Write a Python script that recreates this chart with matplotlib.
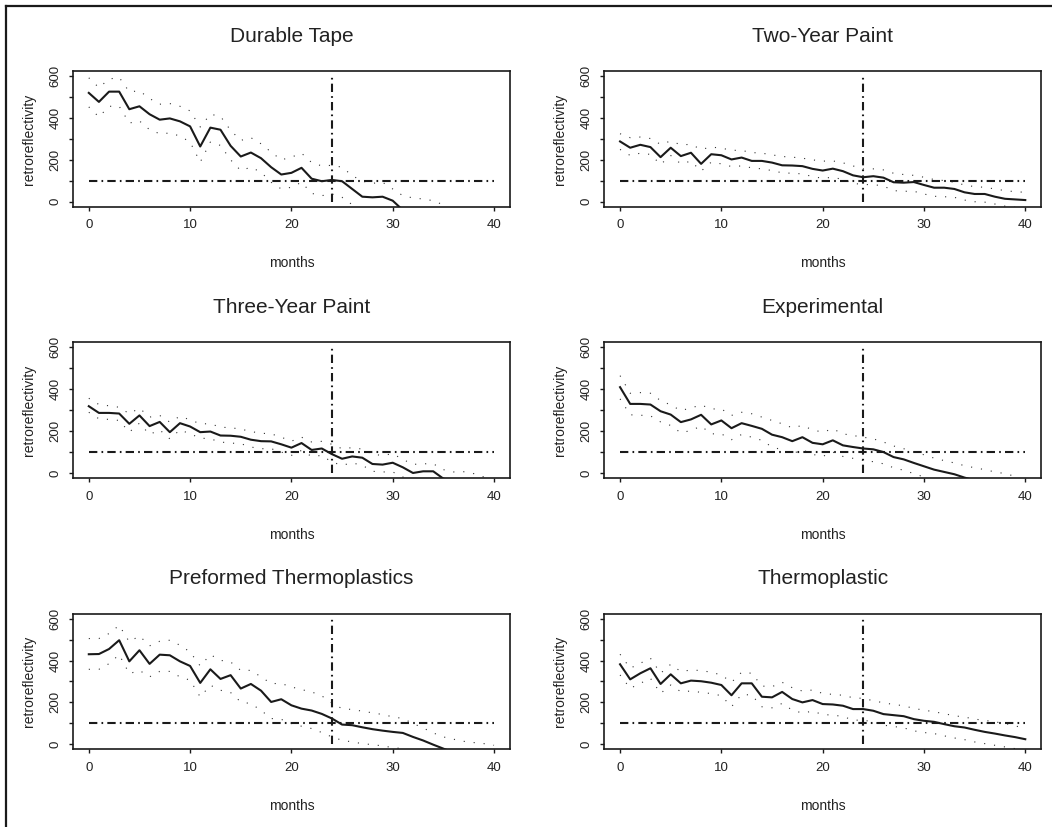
import matplotlib
matplotlib.use("Agg")
import matplotlib.pyplot as plt
from matplotlib.lines import Line2D

plt.rcParams["font.family"] = ["Liberation Sans", "DejaVu Sans"]

# -----------------------------
# Data
# -----------------------------
months = list(range(41))

titles = ["Durable Tape", "Two-Year Paint", "Three-Year Paint",
          "Experimental", "Preformed Thermoplastics", "Thermoplastic"]

tape_mean = [520, 477, 526, 526, 442, 456, 418, 392, 398, 384, 360, 264, 354, 344,
             267, 216, 235, 208, 165, 130, 138, 162, 110, 98, 104, 98, 61, 24, 21,
             24, 5, -40]
tape_upper = [592, 545, 586, 594, 525, 530, 493, 466, 469, 456, 434, 357, 418, 408,
              341, 293, 306, 277, 237, 200, 213, 232, 187, 171, 174, 165, 125, 98,
              88, 93, 61, 29, 18, 13, 5, -15]
tape_lower = [453, 405, 456, 456, 376, 386, 344, 325, 328, 314, 285, 189, 285, 269,
              200, 149, 165, 141, 93, 61, 69, 93, 40, 29, 37, 21, -14, -50]

two_mean = [288, 258, 272, 261, 213, 258, 218, 234, 181, 227, 222, 202, 211, 195,
            195, 187, 174, 173, 170, 157, 149, 158, 146, 126, 117, 122, 115, 93, 91,
            94, 80, 67, 67, 61, 45, 37, 37, 24, 14, 11, 8]
two_upper = [325, 306, 309, 302, 274, 290, 272, 274, 250, 261, 256, 246, 245, 235,
             232, 224, 216, 213, 208, 200, 194, 195, 186, 171, 157, 157, 152, 136,
             130, 126, 117, 106, 101, 93, 80, 72, 69, 61, 53, 48, 45]
two_lower = [250, 221, 232, 226, 178, 221, 181, 194, 146, 189, 181, 168, 171, 162,
             157, 149, 138, 136, 133, 120, 112, 117, 106, 88, 82, 82, 75, 53, 50, 50,
             37, 26, 24, 21, 8, 0, -2, -11, -21, -27, -35]

three_mean = [319, 287, 287, 284, 235, 275, 224, 244, 195, 238, 222, 195, 198, 179,
              178, 173, 159, 152, 151, 137, 121, 143, 110, 117, 90, 68, 79, 73, 43,
              40, 49, 27, 0, 8, 8, -27, -40]
three_upper = [357, 327, 321, 314, 283, 310, 267, 275, 243, 271, 254, 235, 235, 219,
               216, 210, 198, 190, 187, 171, 152, 171, 148, 151, 137, 116, 121, 114,
               89, 84, 92, 65, 41, 44, 44, 16, 5, 6, -3, -19]
three_lower = [290, 259, 256, 251, 195, 238, 184, 206, 163, 206, 187, 167, 163, 148,
               143, 140, 124, 116, 116, 100, 84, 108, 79, 84, 52, 37, 48, 37, 8, 5, 5,
               -19, -45]

exp_mean = [410, 330, 330, 327, 295, 279, 243, 256, 278, 232, 251, 214, 238, 225,
            211, 183, 171, 152, 171, 144, 137, 156, 132, 124, 117, 113, 100, 76, 65,
            48, 32, 16, 5, -6, -22, -35]
exp_upper = [465, 381, 384, 381, 346, 325, 298, 311, 325, 306, 306, 275, 290, 283,
             267, 251, 235, 216, 227, 206, 195, 211, 187, 179, 171, 163, 148, 129,
             116, 100, 87, 71, 59, 48, 35, 25, 16, 5, -3, -16]
exp_lower = [354, 278, 276, 273, 244, 227, 192, 203, 224, 187, 187, 159, 184, 171,
             156, 124, 111, 92, 111, 89, 79, 100, 79, 70, 60, 54, 44, 25, 13, -3, -19,
             -35]

pre_mean = [430, 431, 455, 497, 396, 449, 384, 428, 425, 396, 374, 293, 358, 312,
            330, 266, 288, 256, 202, 215, 186, 170, 161, 145, 123, 94, 91, 81, 72, 65,
            59, 54, 35, 18, -2, -21, -40]
pre_upper = [505, 505, 529, 568, 489, 518, 470, 492, 497, 473, 441, 374, 428, 401,
             393, 353, 353, 322, 290, 290, 274, 261, 250, 231, 197, 170, 166, 158,
             150, 142, 131, 123, 99, 78, 54, 35, 24, 14, 8, 3, -5]
pre_lower = [358, 358, 385, 428, 337, 353, 322, 348, 348, 322, 306, 226, 282, 258,
             247, 202, 194, 162, 123, 119, 99, 86, 75, 56, 35, 19, 11, 3, -2, -8, -16,
             -21, -40]

thermo_mean = [382, 310, 339, 363, 288, 334, 291, 304, 301, 294, 283, 234, 291, 291,
               227, 224, 250, 216, 200, 211, 192, 190, 184, 168, 168, 160, 144, 139,
               134, 120, 112, 107, 96, 86, 80, 69, 59, 51, 42, 34, 24]
thermo_upper = [430, 363, 387, 411, 339, 382, 347, 355, 352, 344, 331, 296, 344, 339,
                278, 275, 296, 270, 254, 259, 243, 238, 234, 222, 219, 208, 198, 190,
                184, 171, 163, 155, 146, 136, 130, 120, 114, 107, 99, 88, 75]
thermo_lower = [331, 267, 291, 315, 243, 283, 251, 254, 248, 242, 232, 179, 238, 235,
                179, 174, 195, 163, 149, 158, 142, 139, 133, 115, 115, 107, 91, 85, 78,
                64, 56, 51, 40, 30, 22, 11, 3, -5, -13, -21, -34]

means = [tape_mean, two_mean, three_mean, exp_mean, pre_mean, thermo_mean]
uppers = [tape_upper, two_upper, three_upper, exp_upper, pre_upper, thermo_upper]
lowers = [tape_lower, two_lower, three_lower, exp_lower, pre_lower, thermo_lower]

threshold = 100
cutoff_month = 24

# -----------------------------
# Layout
# -----------------------------
fig = plt.figure(figsize=(10.52, 8.27), dpi=100)

lefts = [0.069, 0.574]
bottoms = [0.750, 0.422, 0.094]
w, h = 0.416, 0.164

dashdot = (0, (4, 2, 0.8, 2))
ink = "#1a1a1a"

for k in range(6):
    row, col = divmod(k, 2)
    ax = fig.add_axes([lefts[col], bottoms[row], w, h])

    n = len(means[k])
    ax.plot(months[:n], means[k], color=ink, lw=1.5)
    n = len(uppers[k])
    ax.plot(months[:n], uppers[k], color="#333333", lw=0.8, ls=(0, (1, 8)))
    n = len(lowers[k])
    ax.plot(months[:n], lowers[k], color="#333333", lw=0.8, ls=(0, (1, 8)))

    ax.plot([0, 40], [threshold, threshold], color=ink, lw=1.5, ls=dashdot)
    ax.plot([cutoff_month, cutoff_month], [0, 600], color=ink, lw=1.5, ls=dashdot)

    ax.set_xlim(-1.6, 41.6)
    ax.set_ylim(-24, 624)
    ax.set_xticks([0, 10, 20, 30, 40])
    ax.set_yticks([0, 100, 200, 300, 400, 500, 600])
    ax.set_yticklabels(["0", "", "200", "", "400", "", "600"], rotation=90,
                       va="center")
    ax.tick_params(direction="out", length=3, width=1, colors=ink,
                   labelsize=9.5, labelcolor="#222222")
    ax.tick_params(axis="x", pad=6)
    ax.tick_params(axis="y", pad=5)

    for s in ax.spines.values():
        s.set_linewidth(1.2)
        s.set_color(ink)

    ax.set_title(titles[k], fontsize=15, pad=21, color="#222222")
    ax.set_xlabel("months", fontsize=10, labelpad=18, color="#222222")
    ax.set_ylabel("retroreflectivity", fontsize=10, labelpad=10, color="#222222")

# frame around the figure (only top and left visible in the original)
fig.add_artist(Line2D([0.0057, 1.0], [0.9927, 0.9927], color=ink, lw=1.6,
                      transform=fig.transFigure))
fig.add_artist(Line2D([0.0057, 0.0057], [0.0, 0.9927], color=ink, lw=1.6,
                      transform=fig.transFigure))

fig.savefig("out.png", dpi=100)
